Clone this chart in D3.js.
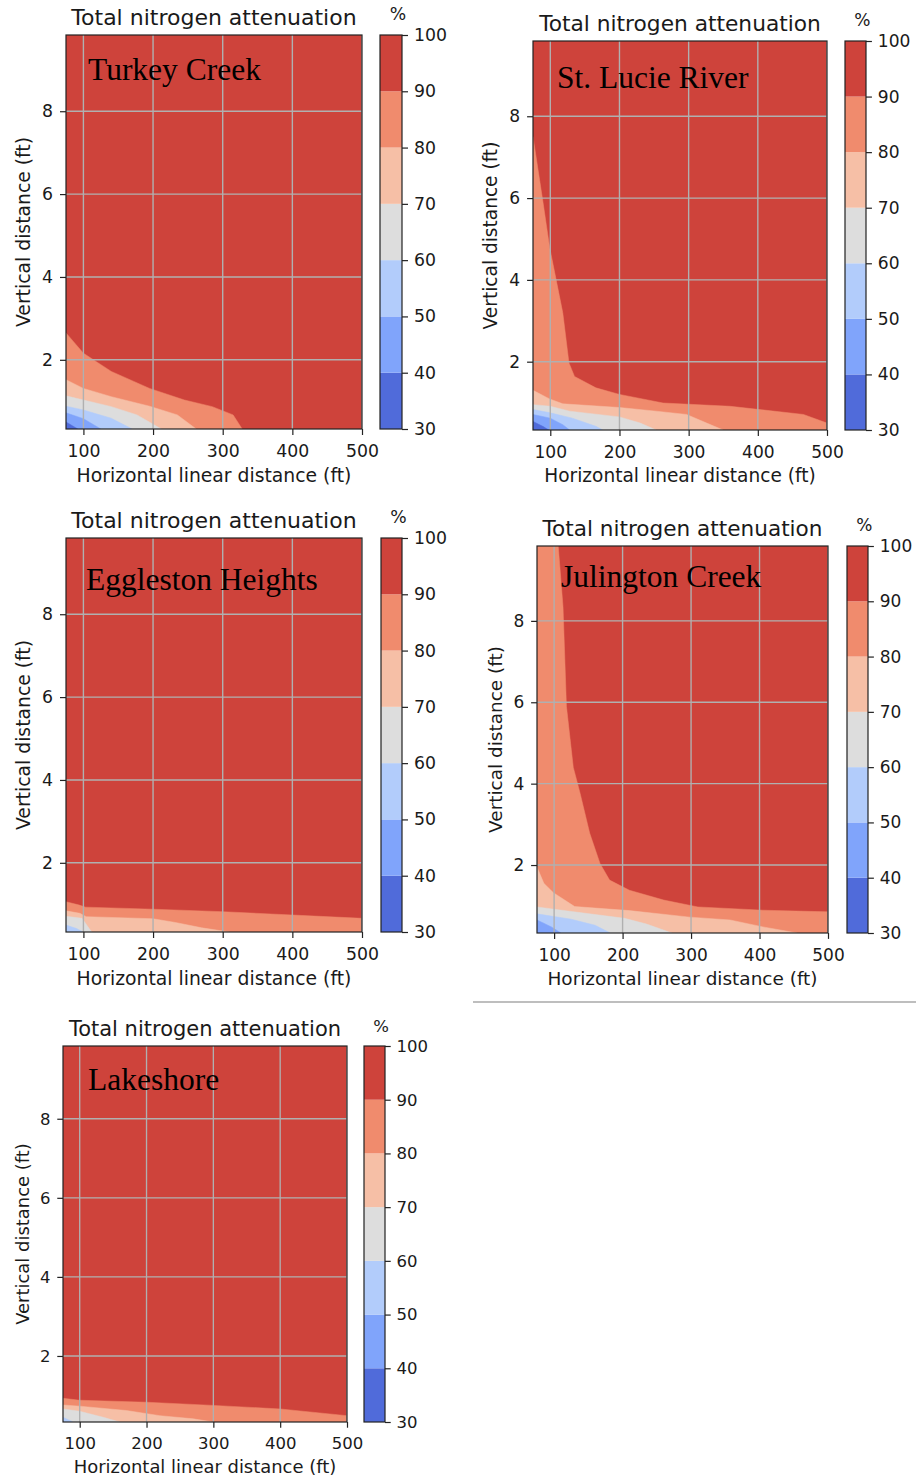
<!DOCTYPE html>
<html>
<head>
<meta charset="utf-8">
<script src="https://cdn.jsdelivr.net/npm/d3@7"></script>
<style>
  html, body { margin: 0; padding: 0; background: #fff; }
  svg { display: block; }
</style>
</head>
<body>
<svg id="chart" width="916" height="1481"></svg>
<script>
// ---------------- DATA ----------------
const levels = [30, 40, 50, 60, 70, 80, 90, 100];
const bandColors = ["#506bda", "#80a4fb", "#b2ccfb", "#dddddd", "#f6bfa6", "#f08b6d", "#ce433b"];
const xTicks = [100, 200, 300, 400, 500];
const yTicks = [2, 4, 6, 8];
const cbTicks = [30, 40, 50, 60, 70, 80, 90, 100];
const xDomain = [75, 500];
const yDomain = [0.33, 9.84];
const titleText = "Total nitrogen attenuation";
const xLabelText = "Horizontal linear distance (ft)";
const yLabelText = "Vertical distance (ft)";
const unitText = "%";
const siteNames = ["Turkey Creek", "St. Lucie River", "Eggleston Heights", "Julington Creek", "Lakeshore"];

// Contour boundaries: for each level, points [x (ft), y (ft)] below which attenuation < level
const turkeyCreek = [
  { level: 90, pts: [[75, 2.65], [100, 2.16], [140, 1.72], [195, 1.31], [245, 1.03], [285, 0.87], [315, 0.67], [328, 0.33]] },
  { level: 80, pts: [[75, 1.52], [100, 1.31], [140, 1.11], [195, 0.88], [235, 0.67], [262, 0.33]] },
  { level: 70, pts: [[75, 1.13], [100, 1.03], [140, 0.87], [177, 0.67], [212, 0.33]] },
  { level: 60, pts: [[75, 0.88], [100, 0.79], [140, 0.59], [170, 0.33]] },
  { level: 50, pts: [[75, 0.72], [100, 0.58], [125, 0.33]] },
  { level: 40, pts: [[75, 0.50], [92, 0.33]] }
];
const stLucieRiver = [
  { level: 90, pts: [[75, 7.5], [89, 5.95], [99, 4.8], [118, 3.2], [127, 1.97], [135, 1.64], [166, 1.36], [200, 1.2], [263, 0.99], [360, 0.91], [466, 0.71], [500, 0.5]] },
  { level: 80, pts: [[75, 1.3], [99, 1.09], [118, 0.97], [200, 0.88], [253, 0.79], [297, 0.71], [326, 0.5], [350, 0.33]] },
  { level: 70, pts: [[75, 0.95], [100, 0.91], [128, 0.79], [200, 0.65], [230, 0.5], [253, 0.33]] },
  { level: 60, pts: [[75, 0.83], [100, 0.75], [132, 0.62], [166, 0.42], [176, 0.33]] },
  { level: 50, pts: [[75, 0.71], [100, 0.62], [118, 0.46], [128, 0.33]] },
  { level: 40, pts: [[75, 0.54], [89, 0.42], [98, 0.33]] }
];
const egglestonHeights = [
  { level: 90, pts: [[75, 1.06], [94, 0.98], [103, 0.93], [200, 0.88], [300, 0.82], [400, 0.74], [500, 0.66]] },
  { level: 80, pts: [[75, 0.84], [95, 0.78], [104, 0.70], [200, 0.65], [232, 0.56], [270, 0.43], [310, 0.33]] },
  { level: 70, pts: [[75, 0.71], [98, 0.66], [108, 0.42], [112, 0.33]] },
  { level: 60, pts: [[75, 0.50], [89, 0.42], [100, 0.33]] }
];
const julingtonCreek = [
  { level: 90, pts: [[75, 9.84], [106, 9.84], [113, 8.35], [118, 5.9], [128, 4.4], [138, 3.76], [152, 2.78], [167, 2.04], [181, 1.63], [210, 1.38], [260, 1.14], [310, 0.97], [405, 0.89], [500, 0.85]] },
  { level: 80, pts: [[75, 1.95], [85, 1.55], [99, 1.32], [130, 0.98], [210, 0.88], [298, 0.72], [357, 0.65], [405, 0.48], [455, 0.33]] },
  { level: 70, pts: [[75, 0.97], [120, 0.87], [203, 0.69], [235, 0.55], [272, 0.33]] },
  { level: 60, pts: [[75, 0.80], [125, 0.67], [160, 0.52], [182, 0.33]] },
  { level: 50, pts: [[75, 0.65], [96, 0.48], [110, 0.33]] }
];
const lakeshore = [
  { level: 90, pts: [[75, 0.93], [100, 0.88], [200, 0.83], [300, 0.75], [400, 0.66], [500, 0.49]] },
  { level: 80, pts: [[75, 0.76], [100, 0.73], [170, 0.62], [220, 0.49], [270, 0.41], [300, 0.33]] },
  { level: 70, pts: [[75, 0.66], [100, 0.6], [135, 0.45], [160, 0.33]] },
  { level: 60, pts: [[75, 0.45], [90, 0.33]] }
];
const siteData = [turkeyCreek, stLucieRiver, egglestonHeights, julingtonCreek, lakeshore];

// ---------------- LAYOUT ----------------
const panels = [
  { left: 66,  right: 362, top: 35,   bottom: 429,  cbLeft: 380, cbRight: 402, labelX: 88,  labelY: 80 },
  { left: 533, right: 827, top: 41,   bottom: 430,  cbLeft: 845, cbRight: 866, labelX: 557, labelY: 88 },
  { left: 66,  right: 362, top: 538,  bottom: 932,  cbLeft: 381, cbRight: 402, labelX: 86,  labelY: 590 },
  { left: 537, right: 828, top: 546,  bottom: 933,  cbLeft: 847, cbRight: 868, labelX: 561, labelY: 587 },
  { left: 63,  right: 347, top: 1046, bottom: 1422, cbLeft: 364, cbRight: 385, labelX: 88,  labelY: 1090 }
];

const svg = d3.select("#chart");
const sans = "'DejaVu Sans', Verdana, sans-serif";
const serif = "'Liberation Serif', 'Times New Roman', serif";
const textColor = "#1a1a1a";

svg.append("line")
  .attr("x1", 473).attr("x2", 916).attr("y1", 1002).attr("y2", 1002)
  .attr("stroke", "#a8a8a8").attr("stroke-width", 1.5);

panels.forEach((p, i) => {
  const s = (p.bottom - p.top) / 394;
  const tickFs = 17.3 * s, titleFs = 22 * s, labelFs = 18.8 * s;
  const x = d3.scaleLinear().domain(xDomain).range([p.left, p.right]);
  const y = d3.scaleLinear().domain(yDomain).range([p.bottom, p.top]);
  const g = svg.append("g");

  const clipId = "clip" + i;
  g.append("clipPath").attr("id", clipId)
    .append("rect").attr("x", p.left).attr("y", p.top)
    .attr("width", p.right - p.left).attr("height", p.bottom - p.top);

  const plot = g.append("g").attr("clip-path", `url(#${clipId})`);
  plot.append("rect").attr("x", p.left).attr("y", p.top)
    .attr("width", p.right - p.left).attr("height", p.bottom - p.top)
    .attr("fill", bandColors[bandColors.length - 1]);

  const area = d3.area()
    .x(d => x(d[0]))
    .y0(y(yDomain[0]) + 2)
    .y1(d => y(d[1]))
    .curve(d3.curveLinear);

  siteData[i]
    .slice().sort((a, b) => b.level - a.level)
    .forEach(b => {
      const idx = levels.indexOf(b.level) - 1;
      plot.append("path")
        .datum(b.pts)
        .attr("d", area)
        .attr("fill", bandColors[idx])
        .attr("stroke", bandColors[idx]).attr("stroke-width", 0.5);
    });

  // grid
  plot.selectAll(".gx").data(xTicks).enter().append("line")
    .attr("x1", d => x(d)).attr("x2", d => x(d))
    .attr("y1", p.top).attr("y2", p.bottom)
    .attr("stroke", "#b0b0b0").attr("stroke-width", 1.4 * s);
  plot.selectAll(".gy").data(yTicks).enter().append("line")
    .attr("x1", p.left).attr("x2", p.right)
    .attr("y1", d => y(d)).attr("y2", d => y(d))
    .attr("stroke", "#b0b0b0").attr("stroke-width", 1.4 * s);

  // spine
  g.append("rect").attr("x", p.left).attr("y", p.top)
    .attr("width", p.right - p.left).attr("height", p.bottom - p.top)
    .attr("fill", "none").attr("stroke", "#222").attr("stroke-width", 1.2);

  // axes
  const xa = g.append("g").attr("transform", `translate(0,${p.bottom})`)
    .call(d3.axisBottom(x).tickValues(xTicks).tickFormat(d3.format("d"))
      .tickSize(6 * s).tickPadding(10 * s).tickSizeOuter(0));
  const ya = g.append("g").attr("transform", `translate(${p.left},0)`)
    .call(d3.axisLeft(y).tickValues(yTicks).tickFormat(d3.format("d"))
      .tickSize(6 * s).tickPadding(7 * s).tickSizeOuter(0));
  [xa, ya].forEach(a => {
    a.select(".domain").remove();
    a.selectAll(".tick line").attr("stroke", "#222").attr("stroke-width", 1.2);
    a.selectAll(".tick text").attr("fill", textColor)
      .style("font-family", sans).style("font-size", tickFs + "px");
  });

  // title & labels
  g.append("text")
    .attr("x", (p.left + p.right) / 2).attr("y", p.top - 10.5 * s)
    .attr("text-anchor", "middle").attr("fill", textColor)
    .style("font-family", sans).style("font-size", titleFs + "px")
    .text(titleText);
  g.append("text")
    .attr("x", (p.left + p.right) / 2).attr("y", p.bottom + 53 * s)
    .attr("text-anchor", "middle").attr("fill", textColor)
    .style("font-family", sans).style("font-size", labelFs + "px")
    .text(xLabelText);
  g.append("text")
    .attr("transform", `translate(${p.left - 36 * s},${(p.top + p.bottom) / 2}) rotate(-90)`)
    .attr("text-anchor", "middle").attr("fill", textColor)
    .style("font-family", sans).style("font-size", labelFs + "px")
    .text(yLabelText);

  // site label
  g.append("text")
    .attr("x", p.labelX).attr("y", p.labelY)
    .attr("fill", "#000")
    .style("font-family", serif).style("font-size", "31.5px")
    .text(siteNames[i]);

  // colorbar
  const cy = d3.scaleLinear().domain([levels[0], levels[levels.length - 1]]).range([p.bottom, p.top]);
  const cbw = p.cbRight - p.cbLeft;
  g.selectAll(".cb").data(d3.range(levels.length - 1)).enter().append("rect")
    .attr("x", p.cbLeft).attr("width", cbw)
    .attr("y", k => cy(levels[k + 1]))
    .attr("height", k => cy(levels[k]) - cy(levels[k + 1]))
    .attr("fill", k => bandColors[k]);
  g.append("rect").attr("x", p.cbLeft).attr("y", p.top)
    .attr("width", cbw).attr("height", p.bottom - p.top)
    .attr("fill", "none").attr("stroke", "#222").attr("stroke-width", 1.2);
  const ca = g.append("g").attr("transform", `translate(${p.cbRight},0)`)
    .call(d3.axisRight(cy).tickValues(cbTicks).tickFormat(d3.format("d"))
      .tickSize(6 * s).tickPadding(6 * s).tickSizeOuter(0));
  ca.select(".domain").remove();
  ca.selectAll(".tick line").attr("stroke", "#222").attr("stroke-width", 1.2);
  ca.selectAll(".tick text").attr("fill", textColor)
    .style("font-family", sans).style("font-size", tickFs + "px");
  g.append("text")
    .attr("x", (p.cbLeft + p.cbRight) / 2 + 7 * s).attr("y", p.top - 15 * s)
    .attr("text-anchor", "middle").attr("fill", textColor)
    .style("font-family", sans).style("font-size", tickFs + "px")
    .text(unitText);
});
</script>
</body>
</html>
